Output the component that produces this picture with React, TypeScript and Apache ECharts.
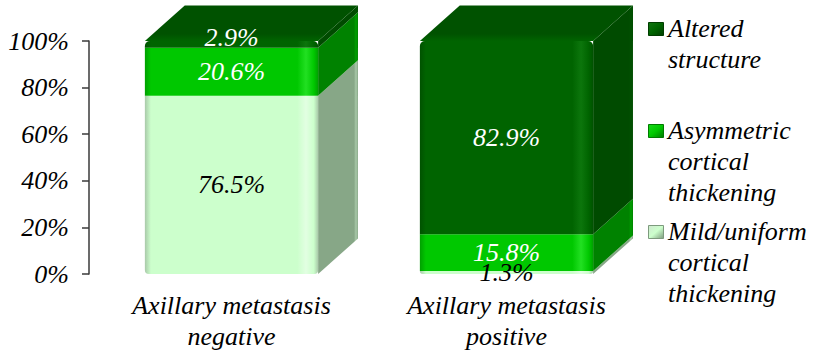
import React, { useEffect, useRef } from 'react';
import * as echarts from 'echarts';

// Categories and stacked percentages (bottom → top of each column)
const categories = ['Axillary metastasis\nnegative', 'Axillary metastasis\npositive'];
const seriesNames = [
  'Mild/uniform\ncortical\nthickening',
  'Asymmetric\ncortical\nthickening',
  'Altered\nstructure',
];
const mildValues = [76.5, 1.3];
const asymmetricValues = [20.6, 15.8];
const alteredValues = [2.9, 82.9];
const yTicks = [0, 20, 40, 60, 80, 100];

const FONT_FAMILY = 'Times New Roman, Liberation Serif, serif';

// Face colours per series: front, bevel edge shades, right side, top, label text
const faces = [
  { front: '#ccffcc', edgeDark: '#a9c9a9', edgeLight: '#e2ffe2', side: '#87a787', top: '#aed6ae', label: '#000000', iconA: '#cfe8cf', iconB: '#7d9a7d' },
  { front: '#00c800', edgeDark: '#00a000', edgeLight: '#22e022', side: '#008200', top: '#00a200', label: '#ffffff', iconA: '#19d819', iconB: '#007a00' },
  { front: '#006400', edgeDark: '#005200', edgeLight: '#0c760c', side: '#004b00', top: '#005200', label: '#ffffff', iconA: '#117511', iconB: '#003d00' },
];

// Legend item tops (first text line), listed top to bottom
const legendTops = [13, 115, 216];

function buildSeries() {
  const stacks = [mildValues, asymmetricValues, alteredValues];
  const bases = categories.map(() => 0);
  return stacks.map((values, si) => {
    const data = values.map((v, ci) => {
      const b = bases[ci];
      bases[ci] += v;
      return [ci, b, v, b + v];
    });
    const face = faces[si];
    return {
      type: 'custom',
      name: seriesNames[si],
      data,
      encode: { x: 0, y: 3 },
      renderItem: (_params: any, api: any) => {
        const cat = api.value(0);
        const base = api.value(1);
        const val = api.value(2);
        const pBase = api.coord([cat, base]);
        const pTop = api.coord([cat, base + val]);
        const band = api.size([1, 0])[0];
        const w = band * 0.63;
        const dx = w * 0.23;
        const dy = w * 0.205;
        const x0 = pBase[0] - w / 2;
        const x1 = pBase[0] + w / 2;
        const yb = pBase[1];
        const yt = pTop[1];
        const h = yb - yt;
        const isTop = base + val >= 99.95;
        const isBottom = base <= 0.001;
        const r = [isTop ? 5 : 0, isTop ? 5 : 0, isBottom ? 4 : 0, isBottom ? 4 : 0];
        const children: any[] = [
          {
            type: 'polygon',
            shape: { points: [[x1, yt], [x1 + dx, yt - dy], [x1 + dx, yb - dy], [x1, yb]] },
            style: {
              fill: new echarts.graphic.LinearGradient(0, 0, 1, 0, [
                { offset: 0, color: face.side },
                { offset: 0.9, color: face.side },
                { offset: 0.95, color: face.edgeDark },
                { offset: 1, color: face.side },
              ]),
            },
          },
          {
            type: 'rect',
            shape: { x: x0, y: yt, width: w, height: h, r },
            style: {
              fill: new echarts.graphic.LinearGradient(0, 0, 1, 0, [
                { offset: 0, color: face.edgeDark },
                { offset: 0.035, color: face.front },
                { offset: 0.88, color: face.front },
                { offset: 0.93, color: face.edgeLight },
                { offset: 0.975, color: face.front },
                { offset: 1, color: face.edgeDark },
              ]),
            },
          },
        ];
        if (isTop) {
          children.push({
            type: 'polygon',
            shape: { points: [[x0, yt], [x0 + dx, yt - dy], [x1 + dx, yt - dy], [x1, yt]] },
            style: {
              fill: new echarts.graphic.LinearGradient(0, 1, 0, 0, [
                { offset: 0, color: face.front },
                { offset: 0.2, color: face.top },
                { offset: 1, color: face.top },
              ]),
            },
          });
        }
        // thin top segments keep their label resting on the lip of the column
        const labelY = isTop && h < 20 ? yt + h - 10 : yt + h / 2;
        children.push({
          type: 'text',
          z2: 100 + si,
          style: {
            text: `${val.toFixed(1)}%`,
            x: pBase[0],
            y: labelY,
            fill: face.label,
            fontFamily: FONT_FAMILY,
            fontStyle: 'italic',
            fontSize: 26,
            align: 'center',
            verticalAlign: 'middle',
          },
        });
        return { type: 'group', children };
      },
    };
  });
}

function buildLegend() {
  const elements: any[] = [];
  const order = [2, 1, 0];
  order.forEach((si, i) => {
    const top = legendTops[i];
    const face = faces[si];
    elements.push({
      type: 'rect',
      left: 648,
      top: top + 9,
      shape: { x: 0, y: 0, width: 15, height: 13 },
      style: {
        fill: new echarts.graphic.LinearGradient(0, 0, 1, 1, [
          { offset: 0, color: face.iconA },
          { offset: 0.5, color: face.front },
          { offset: 1, color: face.iconB },
        ]),
        stroke: face.iconB,
        lineWidth: 1,
      },
    });
    elements.push({
      type: 'text',
      left: 668,
      top,
      style: {
        text: seriesNames[si],
        fontFamily: FONT_FAMILY,
        fontStyle: 'italic',
        fontSize: 26,
        fill: '#000000',
        lineHeight: 31,
      },
    });
  });
  return elements;
}

export default function App() {
  const ref = useRef<HTMLDivElement>(null);

  useEffect(() => {
    document.body.style.margin = '0';
    if (!ref.current) return;
    const chart = echarts.init(ref.current, undefined, { renderer: 'svg' });
    chart.setOption({
      animation: false,
      backgroundColor: '#ffffff',
      grid: { left: 94, right: 170, top: 41, bottom: 77, containLabel: false },
      xAxis: {
        type: 'category',
        data: categories,
        axisLine: { show: false },
        axisTick: { show: false },
        axisLabel: {
          fontFamily: FONT_FAMILY,
          fontStyle: 'italic',
          fontSize: 26,
          lineHeight: 31,
          color: '#000000',
          margin: 16,
          interval: 0,
        },
      },
      yAxis: {
        type: 'value',
        min: yTicks[0],
        max: yTicks[yTicks.length - 1],
        interval: yTicks[1] - yTicks[0],
        offset: 5,
        axisLine: { show: true, lineStyle: { color: '#3a3a3a', width: 1.5 } },
        axisTick: { show: true, length: 7, lineStyle: { color: '#3a3a3a', width: 1.5 } },
        splitLine: { show: false },
        axisLabel: {
          formatter: '{value}%',
          fontFamily: FONT_FAMILY,
          fontStyle: 'italic',
          fontSize: 26,
          color: '#000000',
          margin: 20,
        },
      },
      series: buildSeries(),
      graphic: buildLegend(),
    });
    return () => chart.dispose();
  }, []);

  return <div ref={ref} style={{ width: 814, height: 352 }} />;
}
